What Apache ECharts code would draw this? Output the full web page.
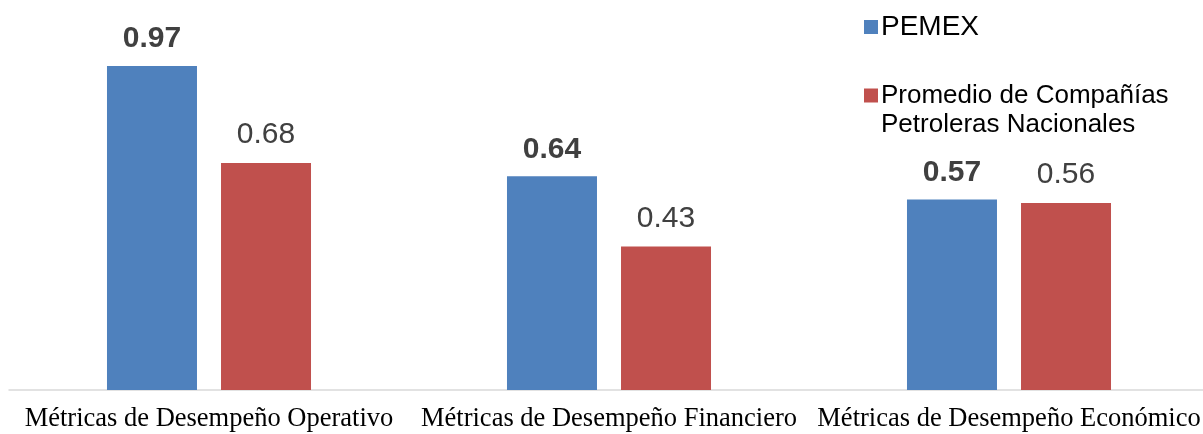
<!DOCTYPE html>
<html lang="es">
<head>
    <meta charset="UTF-8">
    <title>ECharts</title>
    <script src="https://cdn.jsdelivr.net/npm/echarts@6/dist/echarts.min.js"></script>
    <style>
        * { margin: 0; padding: 0 }
        html, body { width: 100%; height: 100%; background: #fff; overflow: hidden; }
    </style>
</head>
<body>
<!-- el eje del original sigue mas alla del borde derecho -->
<div id="main" style="width: 1209px;height:434px;"></div>
<script type="text/javascript">
    // datos
    var categorias = ['Métricas de Desempeño Operativo', 'Métricas de Desempeño Financiero', 'Métricas de Desempeño Económico'];
    var pemex = [0.97, 0.64, 0.57];
    var promedio = [0.68, 0.43, 0.56];
    var nombres = ['PEMEX', 'Promedio de Compañías\nPetroleras Nacionales'];

    var myChart = echarts.init(document.getElementById('main'));

    var option = {
        animation: false,
        legend: [{
            data: [nombres[0]],
            left: 859,
            top: 8,
            itemWidth: 14,
            itemHeight: 14,
            icon: 'rect',
            textStyle: {fontFamily: 'Liberation Sans, Arial', fontSize: 28, color: '#000', padding: [0, 0, 0, -2]}
        }, {
            data: [nombres[1]],
            left: 859,
            top: 47,
            itemWidth: 14,
            itemHeight: 14,
            icon: 'rect',
            // linea vacia arriba para que el cuadro quede junto a la primera linea
            formatter: function (name) {
                return '\n' + name;
            },
            textStyle: {
                fontFamily: 'Liberation Sans, Arial', fontSize: 26, color: '#000',
                lineHeight: 29, padding: [0, 0, 0, -2]
            }
        }],
        grid: {left: 9, right: 0, top: 56, bottom: 44},
        xAxis: {
            type: 'category',
            data: categorias,
            axisTick: {show: false},
            axisLine: {lineStyle: {color: '#d9d9d9', width: 1.5}},
            axisLabel: {
                fontFamily: 'Liberation Serif, Times New Roman',
                fontSize: 26.5,
                color: '#000',
                margin: 16,
                interval: 0
            }
        },
        yAxis: {
            type: 'value',
            min: 0,
            max: 1,
            show: false,
            splitLine: {show: false}
        },
        series: [{
            name: nombres[0],
            type: 'bar',
            data: pemex,
            barWidth: 90,
            barGap: '26.7%',
            itemStyle: {color: '#4f81bd'},
            label: {
                show: true,
                position: 'top',
                distance: 12,
                fontFamily: 'Liberation Sans, Arial',
                fontSize: 30,
                fontWeight: 'bold',
                color: '#404040'
            }
        }, {
            name: nombres[1],
            type: 'bar',
            data: promedio,
            barWidth: 90,
            itemStyle: {color: '#c0504d'},
            label: {
                show: true,
                position: 'top',
                distance: 13,
                fontFamily: 'Liberation Sans, Arial',
                fontSize: 30,
                color: '#404040'
            }
        }]
    };

    myChart.setOption(option);
</script>
</body>
</html>
